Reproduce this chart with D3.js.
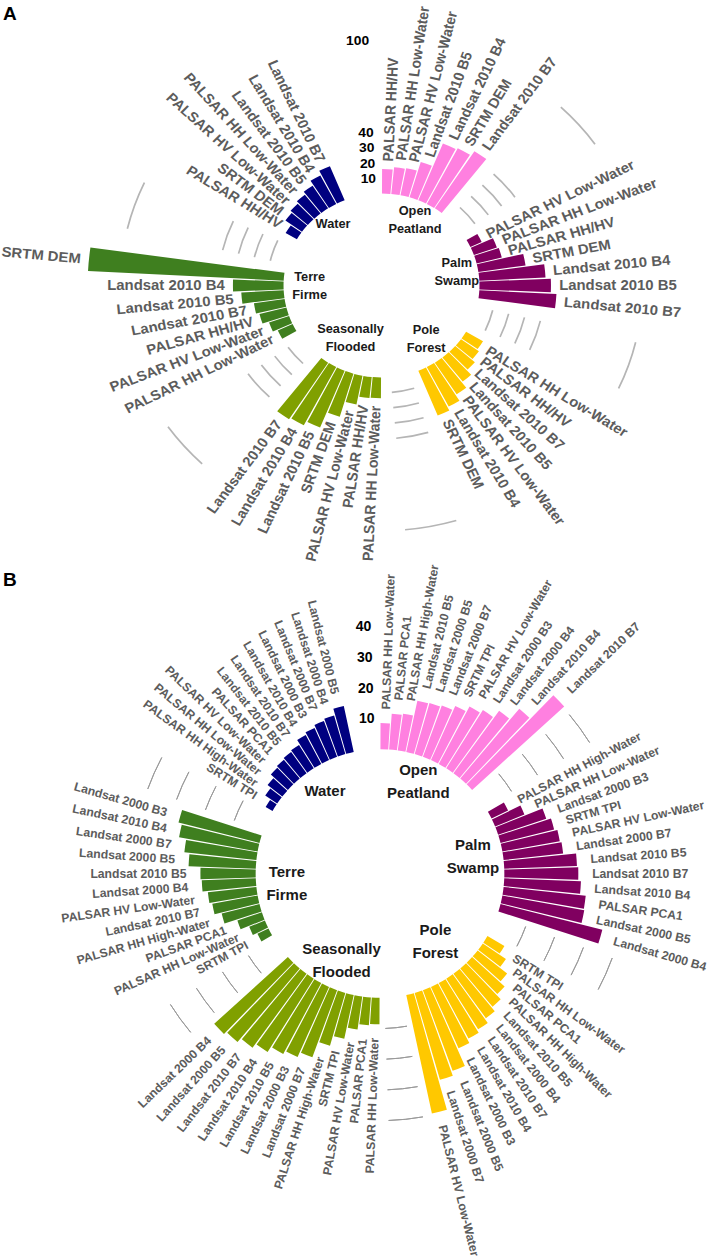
<!DOCTYPE html>
<html>
<head>
<meta charset="utf-8">
<script src="https://cdn.jsdelivr.net/npm/d3@7"></script>
<style>
  body { margin: 0; background: #fff; }
  text { font-family: "Liberation Sans", Arial, sans-serif; font-weight: bold; }
</style>
</head>
<body>
<svg id="chart" width="713" height="1259"></svg>
<script>
// groups in clockwise order, starting at 12 o'clock
const groups = ["Open Peatland", "Palm Swamp", "Pole Forest", "Seasonally Flooded", "Terre Firme", "Water"];
const groupColors = ["#ff80e0", "#800060", "#ffc800", "#80a000", "#3f7f1f", "#000080"];

// panel A: variable names and importance per group (clockwise inside each group)
const labelsA = [
  ["PALSAR HH/HV", "PALSAR HH Low-Water", "PALSAR HV Low-Water", "Landsat 2010 B5", "Landsat 2010 B4", "SRTM DEM", "Landsat 2010 B7"],
  ["PALSAR HV Low-Water", "PALSAR HH Low-Water", "PALSAR HH/HV", "SRTM DEM", "Landsat 2010 B4", "Landsat 2010 B5", "Landsat 2010 B7"],
  ["PALSAR HH Low-Water", "PALSAR HH/HV", "Landsat 2010 B7", "Landsat 2010 B5", "PALSAR HV Low-Water", "Landsat 2010 B4", "SRTM DEM"],
  ["PALSAR HH Low-Water", "PALSAR HH/HV", "PALSAR HV Low-Water", "SRTM DEM", "Landsat 2010 B5", "Landsat 2010 B4", "Landsat 2010 B7"],
  ["PALSAR HH Low-Water", "PALSAR HV Low-Water", "PALSAR HH/HV", "Landsat 2010 B7", "Landsat 2010 B5", "Landsat 2010 B4", "SRTM DEM"],
  ["PALSAR HH/HV", "SRTM DEM", "PALSAR HV Low-Water", "PALSAR HH Low-Water", "Landsat 2010 B5", "Landsat 2010 B4", "Landsat 2010 B7"]
];
const valuesA = [
  [16, 17.5, 18, 24, 40, 41, 44.5],
  [7.6, 14.9, 15.9, 29.2, 40.6, 43.8, 47.3],
  [12, 13.5, 16, 20, 24.5, 29, 31.5],
  [13.5, 13.8, 19.1, 29.3, 40, 42.9, 44],
  [10, 13, 17, 19, 26, 31, 120],
  [8, 12.5, 14, 15.5, 17.5, 21, 24]
];
const ticksA = [10, 20, 30, 40, 100];

// panel B
const labelsB = [
  ["PALSAR HH Low-Water", "PALSAR PCA1", "PALSAR HH High-Water", "Landsat 2010 B5", "Landsat 2000 B5", "Landsat 2000 B7", "SRTM TPI", "PALSAR HV Low-Water", "Landsat 2000 B3", "Landsat 2000 B4", "Landsat 2010 B4", "Landsat 2010 B7"],
  ["PALSAR HH High-Water", "PALSAR HH Low-Water", "Landsat 2000 B3", "SRTM TPI", "PALSAR HV Low-Water", "Landsat 2000 B7", "Landsat 2010 B5", "Landsat 2010 B7", "Landsat 2010 B4", "PALSAR PCA1", "Landsat 2000 B5", "Landsat 2000 B4"],
  ["SRTM TPI", "PALSAR HH Low-Water", "PALSAR PCA1", "PALSAR HH High-Water", "Landsat 2010 B5", "Landsat 2000 B4", "Landsat 2010 B7", "Landsat 2010 B4", "Landsat 2000 B3", "Landsat 2000 B5", "Landsat 2000 B7", "PALSAR HV Low-Water"],
  ["PALSAR HH Low-Water", "PALSAR PCA1", "PALSAR HV Low-Water", "SRTM TPI", "PALSAR HH High-Water", "Landsat 2000 B7", "Landsat 2000 B3", "Landsat 2010 B5", "Landsat 2010 B4", "Landsat 2010 B7", "Landsat 2000 B5", "Landsat 2000 B4"],
  ["SRTM TPI", "PALSAR HH Low-Water", "PALSAR PCA1", "PALSAR HH High-Water", "Landsat 2010 B7", "PALSAR HV Low-Water", "Landsat 2000 B4", "Landsat 2010 B5", "Landsat 2000 B5", "Landsat 2000 B7", "Landsat 2010 B4", "Landsat 2000 B3"],
  ["SRTM TPI", "PALSAR HH High-Water", "PALSAR HH Low-Water", "PALSAR HV Low-Water", "PALSAR PCA1", "Landsat 2010 B5", "Landsat 2010 B7", "Landsat 2010 B4", "Landsat 2000 B3", "Landsat 2000 B7", "Landsat 2000 B4", "Landsat 2000 B5"]
];
const valuesB = [
  [8.5, 11.7, 12.1, 17.1, 17.3, 17.8, 19.3, 21.2, 22.4, 25.2, 29.8, 40.5],
  [6, 10.3, 16.5, 18, 19, 19.5, 23.7, 24.1, 25, 26.9, 27.1, 34.2],
  [6.4, 9.1, 12.2, 14.3, 16.3, 17.9, 19.5, 20.5, 21.9, 28, 29.5, 39.5],
  [8.6, 9.1, 10.8, 14.6, 17.9, 23.3, 25, 26.2, 28.2, 29.8, 31.4, 32.4],
  [4, 5.5, 8.4, 12.7, 15, 15.9, 17.6, 18, 21.9, 23.6, 26, 27.2],
  [2.6, 4.7, 6.1, 7.5, 8, 8.5, 9, 10.7, 11.5, 12.4, 13.1, 15.3]
];
const ticksB = [10, 20, 30, 40];

const svg = d3.select("#chart");

// panel settings (layout only)
const panelA = {
  letter: "A", letterY: 20,
  labels: labelsA, values: valuesA, ticks: ticksA,
  cx: 381.5, cy: 285.5, sx: 1.065, k: 1.533, yMin: -60, gap: 4,
  labelSize: 14, labelPad: 5, titleSize: 12, titleLine: 18, tickSize: 13,
  titleValue: [-12.5, -13, -16, -21, -16, -10],
  titleTurn: [6.5, 0, 2.5, 10, 11, 4.5],
  gridColor: "#b5b5b5", gridWidth: 1.6, gridSpan: 2.1
};
const panelB = {
  letter: "B", letterY: 586,
  labels: labelsB, values: valuesB, ticks: ticksB,
  cx: 380, cy: 873.5, sx: 1, k: 3.07, yMin: -40.5, gap: 3,
  labelSize: 12.2, labelPad: 4.5, titleSize: 15, titleLine: 23, tickSize: 14,
  titleValue: [-8, -9.7, -12, -9.7, -10, -8.2],
  titleTurn: [-1.4, -4.7, -3.3, 0, 0, 2.3],
  gridColor: "#9a9a9a", gridWidth: 1, gridSpan: 2
};

function drawPanel(p) {
  const n = p.labels[0].length;
  const N = groups.length * (n + p.gap);
  const theta = d3.scaleLinear().domain([0, N]).range([0, 2 * Math.PI]);
  const r = d3.scaleLinear().domain([p.yMin, 0]).range([0, -p.yMin * p.k]);
  const deg = (a) => (a * 180) / Math.PI;

  svg
    .append("text")
    .attr("x", 3)
    .attr("y", p.letterY)
    .style("font-size", "19px")
    .attr("fill", "#000")
    .text(p.letter);

  const g = svg
    .append("g")
    .attr("transform", `translate(${p.cx},${p.cy}) scale(${p.sx},1)`);

  // flatten into one record per bar
  const bars = [];
  p.labels.forEach((labs, gi) => {
    labs.forEach((lab, j) => {
      bars.push({ group: gi, label: lab, value: p.values[gi][j], slot: gi * (n + p.gap) + j });
    });
  });

  // grid arcs centred in the gaps (none in the gap that holds the tick labels)
  const gridArc = d3.arc();
  for (let gi = 1; gi < groups.length; gi++) {
    const s = gi * (n + p.gap);
    const mid = s - p.gap / 2;
    p.ticks.forEach((t) => {
      g.append("path")
        .attr("d", gridArc({
          innerRadius: r(t), outerRadius: r(t),
          startAngle: theta(mid - p.gridSpan / 2), endAngle: theta(mid + p.gridSpan / 2)
        }))
        .attr("fill", "none")
        .attr("stroke", p.gridColor)
        .attr("stroke-width", p.gridWidth);
    });
  }

  // bars
  const arc = d3
    .arc()
    .innerRadius(r(0))
    .outerRadius((d) => r(d.value))
    .startAngle((d) => theta(d.slot + 0.05))
    .endAngle((d) => theta(d.slot + 0.95));

  g.selectAll(".bar")
    .data(bars)
    .join("path")
    .attr("class", "bar")
    .attr("d", arc)
    .attr("fill", (d) => groupColors[d.group]);

  // variable labels, radial, flipped on the left half
  g.selectAll(".lab")
    .data(bars)
    .join("text")
    .attr("class", "lab")
    .attr("transform", (d) => {
      const a = theta(d.slot + 0.5);
      const rr = r(d.value + p.labelPad);
      const rot = deg(a) < 180 ? deg(a) - 90 : deg(a) - 270;
      return `translate(${rr * Math.sin(a)},${-rr * Math.cos(a)}) rotate(${rot})`;
    })
    .attr("text-anchor", (d) => (deg(theta(d.slot + 0.5)) < 180 ? "start" : "end"))
    .attr("dy", "0.35em")
    .attr("fill", "#5c5c5c")
    .style("font-size", p.labelSize + "px")
    .text((d) => d.label);

  // tick labels at the last (empty) slot
  const ta = theta(N - 0.5);
  g.selectAll(".tick")
    .data(p.ticks)
    .join("text")
    .attr("class", "tick")
    .attr("x", (t) => r(t) * Math.sin(ta))
    .attr("y", (t) => -r(t) * Math.cos(ta))
    .attr("dy", "0.35em")
    .attr("text-anchor", "end")
    .attr("fill", "#000")
    .style("font-size", p.tickSize + "px")
    .text((t) => t);

  // group titles inside the ring
  groups.forEach((name, gi) => {
    const s = gi * (n + p.gap);
    const a = theta(s + n / 2) + (p.titleTurn[gi] * Math.PI) / 180;
    const rr = r(p.titleValue[gi]);
    const words = name.split(" ");
    const t = g
      .append("text")
      .attr("x", rr * Math.sin(a))
      .attr("y", -rr * Math.cos(a))
      .attr("text-anchor", "middle")
      .attr("fill", "#1a1a1a")
      .style("font-size", p.titleSize + "px");
    words.forEach((w, wi) => {
      t.append("tspan")
        .attr("x", rr * Math.sin(a))
        .attr("dy", wi === 0 ? (0.35 * p.titleSize - ((words.length - 1) * p.titleLine) / 2) : p.titleLine)
        .text(w);
    });
  });
}

drawPanel(panelA);
drawPanel(panelB);
</script>
</body>
</html>
